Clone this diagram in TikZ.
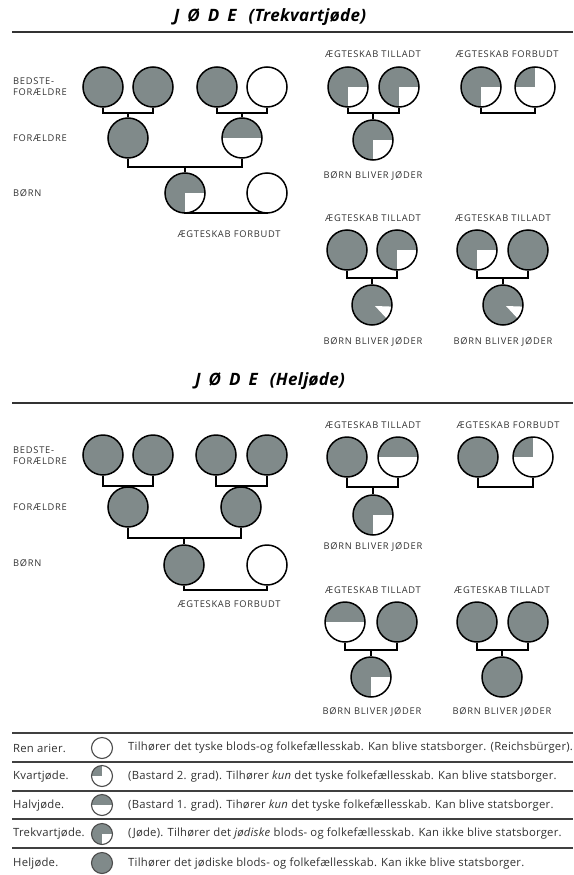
\documentclass[tikz,border=0pt]{standalone}
\usepackage{fontspec}
\setmainfont{Open Sans}
\newfontfamily\capsfont[LetterSpace=8]{Open Sans}
\newfontfamily\legfont[LetterSpace=2]{Open Sans}
\newfontfamily\titlefont[LetterSpace=2]{Open Sans}
\definecolor{jg}{RGB}{128,138,138}
\definecolor{ink}{RGB}{50,50,50}
\tikzset{
  per/.style={circle, draw=black, line width=1.5pt, minimum size=40pt, inner sep=0pt},
  hel/.style={per, fill=jg},
  ren/.style={per, fill=white},
  halv/.style={per, fill=white, path picture={\fill[jg] (path picture bounding box.north west) rectangle (path picture bounding box.east);}},
  kvart/.style={per, fill=white, path picture={\fill[jg] (path picture bounding box.north west) rectangle (path picture bounding box.center);}},
  trek/.style={per, fill=jg, path picture={\fill[white] (path picture bounding box.center) rectangle (path picture bounding box.south east);}},
  syv/.style={per, fill=jg, path picture={\fill[white] (path picture bounding box.center) ++(3pt,-1pt) -- +(-2:30pt) -- +(-47:30pt) -- cycle;}},
  small/.style={minimum size=21pt, line width=1.1pt, draw=black!70},
  con/.style={draw=black, line width=1.5pt},
  lbl/.style={font=\capsfont\fontsize{9.3}{10}\selectfont, text=ink, inner sep=0pt},
  side/.style={font=\capsfont\fontsize{9.3}{11}\selectfont, text=ink, inner sep=0pt, anchor=west, align=left},
  ttl/.style={font=\titlefont\bfseries\itshape\fontsize{17}{19}\selectfont, inner sep=0pt},
  rul/.style={draw=black!80, line width=1.8pt},
  lrul/.style={draw=black!75, line width=1.3pt},
  legl/.style={font=\legfont\fontsize{11.3}{13}\selectfont, text=ink, inner sep=0pt, anchor=west},
}
\newcommand{\jodeword}{J\hspace{8pt}Ø\hspace{8pt}D\hspace{8pt}E\hspace{12pt}}
\begin{document}
\begin{tikzpicture}[x=1pt,y=-1pt]
\useasboundingbox[fill=white] (0,0) rectangle (573,875);

% ===== Header 1 =====
\node[ttl] (t1) at (270,17) {\jodeword(Trekvartjøde)};
\coordinate (r1a) at (12,32); \coordinate (r1b) at (573,32);
\draw[rul] (r1a) -- (r1b);

% top-left tree
\node[side] (sb1) at (13,87) {BEDSTE-\\FORÆLDRE};
\node[side] (sf1) at (13,138) {FORÆLDRE};
\node[side] (sc1) at (13,193) {BØRN};
\node[hel] (a1) at (103,87) {};
\node[hel] (a2) at (153,87) {};
\node[hel] (a3) at (217,87) {};
\node[ren] (a4) at (267,87) {};
\node[hel] (ap1) at (128,138) {};
\node[halv] (ap2) at (242,138) {};
\node[trek] (ac1) at (185,193) {};
\node[ren] (ac2) at (267,193) {};
\coordinate (aj1) at (128,113);
\coordinate (aj2) at (242,113);
\coordinate (aj3) at (185,167);
\coordinate (aj4) at (226,213);
\draw[con] (a1.south) |- (aj1) -| (a2.south); \draw[con] (aj1) -- (ap1.north);
\draw[con] (a3.south) |- (aj2) -| (a4.south); \draw[con] (aj2) -- (ap2.north);
\draw[con] (ap1.south) |- (aj3) -| (ap2.south); \draw[con] (aj3) -- (ac1.north);
\draw[con] (ac1.south) |- (aj4) -| (ac2.south);
\node[lbl] (af) at (229,234) {ÆGTESKAB FORBUDT};

% top-right groups
\node[lbl] (bl1) at (373,54) {ÆGTESKAB TILLADT};
\node[trek] (b1) at (348,87) {};
\node[trek] (b2) at (399,87) {};
\coordinate (bj1) at (373,113);
\node[trek] (bc1) at (373,140) {};
\draw[con] (b1.south) |- (bj1) -| (b2.south); \draw[con] (bj1) -- (bc1.north);
\node[lbl] (bb1) at (373,176) {BØRN BLIVER JØDER};

\node[lbl] (bl2) at (507,54) {ÆGTESKAB FORBUDT};
\node[trek] (b3) at (481,87) {};
\node[kvart] (b4) at (535,87) {};
\coordinate (bj2) at (508,113);
\draw[con] (b3.south) |- (bj2) -| (b4.south);

\node[lbl] (bl3) at (373,218) {ÆGTESKAB TILLADT};
\node[hel] (b5) at (347,250) {};
\node[trek] (b6) at (397,250) {};
\coordinate (bj3) at (372,278);
\node[syv] (bc3) at (372,305) {};
\draw[con] (b5.south) |- (bj3) -| (b6.south); \draw[con] (bj3) -- (bc3.north);
\node[lbl] (bb3) at (373,342) {BØRN BLIVER JØDER};

\node[lbl] (bl4) at (503,218) {ÆGTESKAB TILLADT};
\node[trek] (b7) at (477,250) {};
\node[hel] (b8) at (528,250) {};
\coordinate (bj4) at (503,278);
\node[syv] (bc4) at (503,305) {};
\draw[con] (b7.south) |- (bj4) -| (b8.south); \draw[con] (bj4) -- (bc4.north);
\node[lbl] (bb4) at (503,342) {BØRN BLIVER JØDER};

% ===== Header 2 =====
\node[ttl] (t2) at (270,381) {\jodeword(Heljøde)};
\coordinate (r2a) at (12,403); \coordinate (r2b) at (573,403);
\draw[rul] (r2a) -- (r2b);

% bottom-left tree
\node[side] (sb2) at (13,456) {BEDSTE-\\FORÆLDRE};
\node[side] (sf2) at (13,507) {FORÆLDRE};
\node[side] (sc2) at (13,563) {BØRN};
\node[hel] (c1) at (103,455) {};
\node[hel] (c2) at (153,455) {};
\node[hel] (c3) at (216,455) {};
\node[hel] (c4) at (267,455) {};
\node[hel] (cp1) at (128,507) {};
\node[hel] (cp2) at (241,507) {};
\node[hel] (cc1) at (184,565) {};
\node[ren] (cc2) at (267,565) {};
\coordinate (cj1) at (128,486);
\coordinate (cj2) at (241,486);
\coordinate (cj3) at (184,538);
\coordinate (cj4) at (226,590);
\draw[con] (c1.south) |- (cj1) -| (c2.south); \draw[con] (cj1) -- (cp1.north);
\draw[con] (c3.south) |- (cj2) -| (c4.south); \draw[con] (cj2) -- (cp2.north);
\draw[con] (cp1.south) |- (cj3) -| (cp2.south); \draw[con] (cj3) -- (cc1.north);
\draw[con] (cc1.south) |- (cj4) -| (cc2.south);
\node[lbl] (cf) at (229,604) {ÆGTESKAB FORBUDT};

% bottom-right groups
\node[lbl] (dl1) at (373,425) {ÆGTESKAB TILLADT};
\node[hel] (d1) at (347,457) {};
\node[halv] (d2) at (398,457) {};
\coordinate (dj1) at (373,487);
\node[trek] (dc1) at (373,515) {};
\draw[con] (d1.south) |- (dj1) -| (d2.south); \draw[con] (dj1) -- (dc1.north);
\node[lbl] (db1) at (373,547) {BØRN BLIVER JØDER};

\node[lbl] (dl2) at (508,425) {ÆGTESKAB FORBUDT};
\node[hel] (d3) at (478,457) {};
\node[kvart] (d4) at (533,457) {};
\coordinate (dj2) at (505,487);
\draw[con] (d3.south) |- (dj2) -| (d4.south);

\node[lbl] (dl3) at (373,590) {ÆGTESKAB TILLADT};
\node[halv] (d5) at (345,622) {};
\node[hel] (d6) at (397,622) {};
\coordinate (dj3) at (371,650);
\node[trek] (dc3) at (371,677) {};
\draw[con] (d5.south) |- (dj3) -| (d6.south); \draw[con] (dj3) -- (dc3.north);
\node[lbl] (db3) at (372,712) {BØRN BLIVER JØDER};

\node[lbl] (dl4) at (502,590) {ÆGTESKAB TILLADT};
\node[hel] (d7) at (477,622) {};
\node[hel] (d8) at (528,622) {};
\coordinate (dj4) at (502,650);
\node[hel] (dc4) at (502,677) {};
\draw[con] (d7.south) |- (dj4) -| (d8.south); \draw[con] (dj4) -- (dc4.north);
\node[lbl] (db4) at (502,712) {BØRN BLIVER JØDER};

% ===== Legend =====
\foreach \yy [count=\i] in {733,762,791,819,848} {
  \coordinate (la\i) at (12,\yy); \coordinate (lb\i) at (573,\yy);
  \draw[lrul] (la\i) -- (lb\i);
}
\node[legl] (n1) at (13,748) {Ren arier.};
\node[legl] (n2) at (13,777) {Kvartjøde.};
\node[legl] (n3) at (13,806) {Halvjøde.};
\node[legl] (n4) at (13,834) {Trekvartjøde.};
\node[legl] (n5) at (13,864) {Heljøde.};
\node[ren,small] (i1) at (102,748) {};
\node[kvart,small] (i2) at (102,776) {};
\node[halv,small] (i3) at (102,805) {};
\node[trek,small] (i4) at (102,834) {};
\node[hel,small] (i5) at (102,863) {};
\node[legl] (e1) at (128,748) {Tilhører det tyske blods-og folkefællesskab. Kan blive statsborger. (Reichsbürger).};
\node[legl] (e2) at (128,777) {(Bastard 2. grad). Tilhører \textit{kun} det tyske folkefællesskab. Kan blive statsborger.};
\node[legl] (e3) at (128,806) {(Bastard 1. grad). Tihører \textit{kun} det tyske folkefællesskab. Kan blive statsborger.};
\node[legl] (e4) at (128,834) {(Jøde). Tilhører det \textit{jødiske} blods- og folkefællesskab. Kan ikke blive statsborger.};
\node[legl] (e5) at (128,864) {Tilhører det jødiske blods- og folkefællesskab. Kan ikke blive statsborger.};
\end{tikzpicture}
\end{document}
